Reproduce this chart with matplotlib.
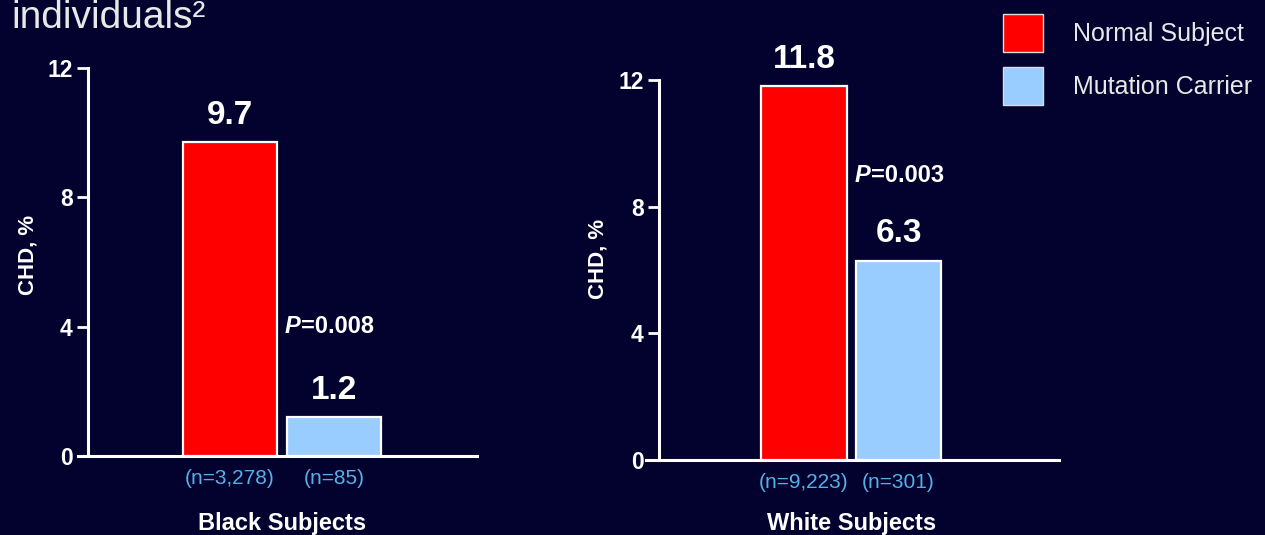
import matplotlib
matplotlib.use('Agg')
import matplotlib.pyplot as plt
from matplotlib.patches import Patch

plt.rcParams['font.family'] = ['Liberation Sans', 'DejaVu Sans']

# data
groups = ['Black Subjects', 'White Subjects']
series = ['Normal Subject', 'Mutation Carrier']
black_chd = [9.7, 1.2]
white_chd = [11.8, 6.3]
black_n = ['(n=3,278)', '(n=85)']
white_n = ['(n=9,223)', '(n=301)']
p_values = ['0.008', '0.003']
y_ticks = [0, 4, 8, 12]

bg = '#03022e'
bar_colors = ['#ff0000', '#99ccff']
n_color = '#55b0ea'
fg = 'white'

fig = plt.figure(figsize=(12.65, 5.35), dpi=100, facecolor=bg)

# title fragment cut at the top edge
fig.text(0.009, 1 - 28 / 535, 'individuals\u00b2', fontsize=28, color='#e8e8e8',
         ha='left', va='baseline')


def panel(rect, xlim, spine_x, values, n_labels, group, pval, p_xy, n_y, g_y, ylab_xy):
    ax = fig.add_axes(rect)
    ax.set_facecolor(bg)
    x = [0, 1]
    ax.bar(x, values, width=0.9, color=bar_colors, edgecolor='white', linewidth=1.6, zorder=3)
    ax.set_xlim(*xlim)
    ax.set_ylim(0, 12)
    ax.set_yticks(y_ticks)
    ax.set_xticks([])
    for s in ['top', 'right']:
        ax.spines[s].set_visible(False)
    ax.spines['left'].set_position(('data', spine_x))
    for s in ['left', 'bottom']:
        ax.spines[s].set_color(fg)
        ax.spines[s].set_linewidth(2.2)
    ax.tick_params(axis='y', colors=fg, length=8, width=2, pad=3, labelsize=16.5)
    for lab in ax.get_yticklabels():
        lab.set_fontweight('bold')

    # value labels above the bars
    for xi, v in zip(x, values):
        ax.annotate(f'{v:.1f}', xy=(xi, v), xytext=(0, 8), textcoords='offset points',
                    ha='center', va='bottom', fontsize=24, fontweight='bold', color=fg)

    # sample sizes under the bars
    for xi, lab in zip(x, n_labels):
        ax.text(xi, n_y, lab, transform=ax.get_xaxis_transform(), ha='center', va='center',
                fontsize=15, color=n_color)

    ax.text(0.5, g_y, group, transform=ax.get_xaxis_transform(), ha='center', va='center',
            fontsize=17, fontweight='bold', color=fg)

    # P value: italic P followed by the number
    pt = ax.text(p_xy[0], p_xy[1], 'P', ha='left', va='center', fontsize=17,
                 fontweight='bold', fontstyle='italic', color=fg)
    ax.annotate('=' + pval, xy=(1, 0), xycoords=pt, ha='left', va='bottom',
                fontsize=17, fontweight='bold', color=fg)

    ax.set_ylabel('CHD, %', fontsize=16, fontweight='bold', color=fg)
    ax.yaxis.set_label_coords(*ylab_xy)
    return ax


W, H = 1265, 535
panel([78 / W, (H - 456) / H, 399 / W, 388 / H], (-1.46, 2.375), -1.365,
      black_chd, black_n, groups[0], p_values[0], (0.53, 4.0), -0.058, -0.173, (-0.10, 0.518))
panel([646 / W, (H - 460) / H, 413 / W, 380 / H], (-1.672, 2.698), -1.534,
      white_chd, white_n, groups[1], p_values[1], (0.54, 9.0), -0.06, -0.166, (-0.092, 0.53))

handles = [Patch(facecolor=c, edgecolor='#dddddd', linewidth=1) for c in bar_colors]
fig.legend(handles, series, loc='upper left', bbox_to_anchor=(1003 / W, 1 - 14 / H),
           frameon=False, fontsize=18, handlelength=1.6, handleheight=1.95,
           labelspacing=0.6, handletextpad=1.2, borderpad=0, borderaxespad=0,
           labelcolor='#e8e8e8')

plt.savefig('out.png', dpi=100, facecolor=bg)
